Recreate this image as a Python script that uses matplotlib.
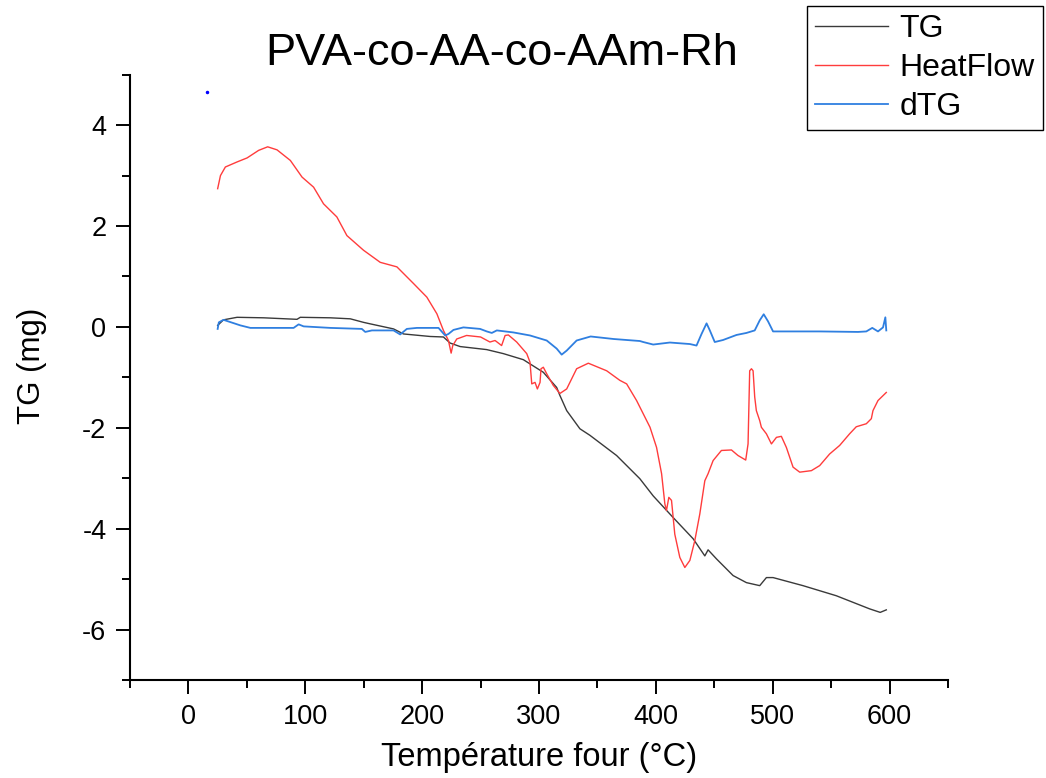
import matplotlib
matplotlib.use("Agg")
import matplotlib.pyplot as plt
from matplotlib.ticker import MultipleLocator

plt.rcParams['font.family'] = ['Liberation Sans', 'DejaVu Sans']
plt.rcParams['axes.unicode_minus'] = False

# TG curve (mg) vs furnace temperature (C)
tgT = [25, 30, 41.6, 64.4, 92.9, 95.7, 121.4, 138.5, 149.8, 155.6, 175.5, 184, 206.8,
       218.2, 223.9, 232.5, 255.2, 269.5, 286.6, 303.7, 315.1, 317.9, 323.7, 335, 343.6,
       366.4, 386.3, 397.7, 414.8, 431.9, 441.9, 444.7, 451.9, 466.1, 477.5, 488.9,
       494.6, 500.3, 525.9, 554.4, 582.9, 592, 597.2]
tgV = [0.03, 0.14, 0.19, 0.18, 0.15, 0.19, 0.18, 0.16, 0.09, 0.06, -0.04, -0.14, -0.19,
       -0.20, -0.32, -0.39, -0.45, -0.53, -0.65, -0.90, -1.20, -1.36, -1.66, -2.02, -2.15,
       -2.55, -3.01, -3.35, -3.78, -4.20, -4.54, -4.42, -4.60, -4.93, -5.07, -5.13,
       -4.97, -4.97, -5.13, -5.33, -5.59, -5.66, -5.61]

# heat flow curve
hfT = [25, 27.4, 31.6, 41.6, 50.2, 60.1, 67.8, 75.8, 87.2, 97.2, 107.1, 115.6, 127,
       135.6, 149.8, 164.1, 178.4, 192.6, 204, 212.6, 218.2, 222.5, 224.8, 226.2, 229.6,
       238, 250, 258, 262.4, 268, 271, 273.8, 280.9, 289.5, 292.3, 293.8, 296.6, 298.6,
       300.9, 301.7, 303.7, 306.6, 312.2, 317.9, 323.7, 332.2, 342.2, 357.9, 369.2, 375,
       383.5, 395, 400.6, 404.9, 407.7, 409.1, 411.1, 413.4, 416.2, 420.5, 424.8, 429.1,
       433.3, 437.6, 441.9, 444.7, 449, 456.1, 464.7, 470.3, 476.9, 478.9, 480.3, 481.8,
       483.2, 484.6, 486, 488.9, 490.3, 494.6, 498.9, 503.2, 507.4, 511.7, 517.4, 523.1,
       533.1, 540.2, 548.7, 557.3, 565.8, 571.5, 580.1, 584.4, 585.8, 590.1, 597.2]
hfV = [2.74, 3.0, 3.17, 3.27, 3.35, 3.50, 3.57, 3.51, 3.30, 2.97, 2.77, 2.44, 2.18,
       1.81, 1.52, 1.28, 1.19, 0.86, 0.59, 0.26, -0.07, -0.27, -0.52, -0.37, -0.24,
       -0.17, -0.20, -0.30, -0.27, -0.37, -0.17, -0.16, -0.30, -0.53, -0.70, -1.13, -1.10,
       -1.23, -1.10, -0.83, -0.80, -0.93, -1.16, -1.32, -1.23, -0.83, -0.72, -0.87, -1.06,
       -1.13, -1.46, -1.99, -2.39, -2.91, -3.51, -3.64, -3.38, -3.44, -4.11, -4.57, -4.77,
       -4.63, -4.24, -3.71, -3.05, -2.91, -2.65, -2.45, -2.44, -2.55, -2.64, -2.32, -0.87,
       -0.83, -0.87, -1.39, -1.66, -1.86, -1.99, -2.12, -2.32, -2.19, -2.17, -2.39, -2.78,
       -2.88, -2.85, -2.75, -2.52, -2.35, -2.12, -1.98, -1.92, -1.82, -1.66, -1.46, -1.30]

# derivative TG curve
dtgT = [25, 26, 30, 44.4, 53, 90, 94.3, 98.6, 121.4, 148.4, 151.3, 157, 175.5, 181.2,
        186.9, 195.5, 214, 219.7, 222.5, 226.8, 235.3, 249.6, 255.3, 259.6, 263.9, 278.1,
        292.3, 306.6, 315.1, 319.4, 323.7, 332.2, 344.2, 363.8, 386.3, 389.2, 397.7, 412,
        429.1, 434.8, 439.1, 443.4, 446.2, 450.4, 457.5, 469, 477.5, 484.6, 488.9, 492.3,
        496, 500.3, 517.4, 540.2, 573, 580.1, 585.2, 590.1, 594.4, 596.4, 597.2]
dtgV = [-0.04, 0.09, 0.14, 0.03, -0.02, -0.02, 0.05, 0.01, -0.02, -0.04, -0.10, -0.07,
        -0.07, -0.15, -0.04, -0.02, -0.02, -0.17, -0.14, -0.06, -0.01, -0.04, -0.09,
        -0.12, -0.07, -0.11, -0.17, -0.27, -0.43, -0.55, -0.47, -0.27, -0.19, -0.24,
        -0.28, -0.30, -0.35, -0.31, -0.34, -0.37, -0.14, 0.07, -0.07, -0.30, -0.26,
        -0.16, -0.12, -0.07, 0.13, 0.25, 0.11, -0.09, -0.09, -0.09, -0.10, -0.09, -0.02,
        -0.09, -0.01, 0.19, -0.07]

strayT = [16]
strayV = [4.66]

fig = plt.figure(figsize=(10.46, 7.78), dpi=100)
ax = fig.add_axes([0.1243, 0.126, 0.782, 0.778])

lTG, = ax.plot(tgT, tgV, color='#3a3a3a', lw=1.0, label='TG')
lHF, = ax.plot(hfT, hfV, color='#ff3c3c', lw=1.0, label='HeatFlow')
lDTG, = ax.plot(dtgT, dtgV, color='#2f7fe0', lw=1.3, label='dTG')
ax.plot(strayT, strayV, ls='none', marker='.', ms=3, color='#0000ff')

ax.set_xlim(-50, 650)
ax.set_ylim(-7, 5)
ax.xaxis.set_major_locator(MultipleLocator(100))
ax.xaxis.set_minor_locator(MultipleLocator(50))
ax.yaxis.set_major_locator(MultipleLocator(2))
ax.yaxis.set_minor_locator(MultipleLocator(1))
ax.tick_params(which='major', direction='out', length=10, width=1.4, labelsize=19.5, pad=7)
ax.tick_params(which='minor', direction='out', length=6, width=1.4)
for side in ['top', 'right']:
    ax.spines[side].set_visible(False)
for side in ['left', 'bottom']:
    ax.spines[side].set_linewidth(1.5)

fig.text(502 / 1046, 1 - 65 / 778, 'PVA-co-AA-co-AAm-Rh', fontsize=32.5,
         ha='center', va='baseline')
fig.text(539 / 1046, 1 - 766 / 778, 'Température four (°C)', fontsize=23.5,
         ha='center', va='baseline')
fig.text(32 / 1046, 1 - 366 / 778, 'TG (mg)', fontsize=22.5, rotation=90,
         ha='center', va='center')

leg = fig.legend(handles=[lTG, lHF, lDTG], loc='upper left',
                 bbox_to_anchor=(807 / 1046, 1 - 6 / 778), fontsize=23,
                 frameon=True, fancybox=False, framealpha=1, edgecolor='black',
                 handlelength=2.3, handletextpad=0.35, borderpad=0.25,
                 labelspacing=0.28, borderaxespad=0)
leg.get_frame().set_linewidth(1.0)

fig.savefig('out.png', dpi=100)
